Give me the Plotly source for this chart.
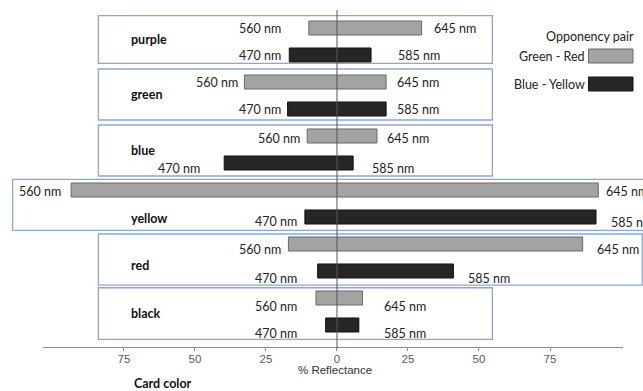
import plotly.graph_objects as go

# Card colours, top to bottom
card_colors = ["purple", "green", "blue", "yellow", "red", "black"]

# % reflectance of each card at the four wavelengths
green_560 = [9.9, 32.6, 10.5, 93.6, 17.1, 7.4]
red_645 = [29.8, 17.3, 14.1, 92.0, 86.5, 9.0]
blue_470 = [16.8, 17.4, 39.7, 11.3, 6.8, 4.0]
yellow_585 = [12.0, 17.3, 5.7, 91.2, 41.0, 7.7]

tick_values = [-75, -50, -25, 0, 25, 50, 75]
tick_labels = ["75", "50", "25", "0", "25", "50", "75"]

# axis geometry
X_RANGE = [-103.5, 100.7]
Y_RANGE = [11.815, -0.667]   # slot units, reversed (first card on top)
W, H = 643, 391
ML, MR, MT, MB = 43, 20, 10, 44
PW, PH = W - ML - MR, H - MT - MB


def xp(v):
    return (v - X_RANGE[0]) / (X_RANGE[1] - X_RANGE[0])


def yp(s):
    return (Y_RANGE[0] - s) / (Y_RANGE[0] - Y_RANGE[1])


def pxx(px):
    return (px - ML) / PW


def pxy(py):
    return (H - MB - py) / PH


GRAY = "#a3a3a3"
GRAY_LINE = "#6b6b6b"
DARK = "#262626"
DARK_LINE = "#141414"
BOX_LINE = "#8fa5d1"
LABEL_FONT = dict(family="Lato", size=12.5, color="#222222")
NAME_FONT = dict(family="Lato", size=12.5, color="#111111", weight="bold")

gr_slots = [2 * i for i in range(len(card_colors))]
by_slots = [2 * i + 1 for i in range(len(card_colors))]

fig = go.Figure()
fig.add_trace(go.Bar(
    orientation="h", y=gr_slots,
    base=[-v for v in green_560],
    x=[a + b for a, b in zip(green_560, red_645)],
    width=0.52, marker=dict(color=GRAY, line=dict(color=GRAY_LINE, width=1)),
    name="Green - Red", showlegend=False,
))
fig.add_trace(go.Bar(
    orientation="h", y=by_slots,
    base=[-v for v in blue_470],
    x=[a + b for a, b in zip(blue_470, yellow_585)],
    width=0.52, marker=dict(color=DARK, line=dict(color=DARK_LINE, width=1)),
    name="Blue - Yellow", showlegend=False,
))

shapes = []
annotations = []

# frame around each card's pair of bars: (x0, x1) in %, (y0, y1) in slots
card_frames = [
    (-84.0, 54.7, -0.456, 1.307),
    (-84.0, 54.7, 1.519, 3.407),
    (-84.0, 54.7, 3.593, 5.481),
    (-114.2, 115.0, 5.604, 7.493),
    (-84.0, 107.5, 7.63, 9.52),
    (-84.0, 54.7, 9.62, 11.53),
]
for x0, x1, y0, y1 in card_frames:
    shapes.append(dict(type="rect", xref="paper", yref="paper",
                       x0=xp(x0), x1=xp(x1), y0=yp(y1), y1=yp(y0),
                       line=dict(color=BOX_LINE, width=1.3), layer="below"))

# zero reference line above the bars
shapes.append(dict(type="line", xref="x", yref="paper", x0=0, x1=0, y0=-0.004, y1=1,
                   line=dict(color="#555555", width=1), layer="above"))

# wavelength labels: (text, x in %, slot, anchor)
wave_labels = [
    ("560 nm", -19.4, 0.0, "right"), ("645 nm", 33.8, 0.0, "left"),
    ("470 nm", -19.4, 1.03, "right"), ("585 nm", 21.1, 1.03, "left"),
    ("560 nm", -34.5, 2.0, "right"), ("645 nm", 20.8, 2.0, "left"),
    ("470 nm", -19.4, 3.03, "right"), ("585 nm", 20.8, 3.03, "left"),
    ("560 nm", -12.8, 4.11, "right"), ("645 nm", 17.3, 4.11, "left"),
    ("470 nm", -47.9, 5.19, "right"), ("585 nm", 12.0, 5.19, "left"),
    ("560 nm", -112.3, 6.06, "left"), ("645 nm", 94.4, 6.07, "left"),
    ("470 nm", -13.7, 7.17, "right"), ("585 nm", 96.1, 7.19, "left"),
    ("560 nm", -19.5, 8.22, "right"), ("645 nm", 91.1, 8.19, "left"),
    ("470 nm", -13.7, 9.26, "right"), ("585 nm", 45.8, 9.26, "left"),
    ("560 nm", -13.7, 10.32, "right"), ("645 nm", 16.2, 10.32, "left"),
    ("470 nm", -13.7, 11.33, "right"), ("585 nm", 16.2, 11.33, "left"),
]
for text, xv, s, anchor in wave_labels:
    annotations.append(dict(text=text, xref="paper", yref="paper", x=xp(xv), y=yp(s),
                            xanchor=anchor, yanchor="middle", showarrow=False,
                            font=LABEL_FONT, borderpad=0))

# card colour names
name_slots = [0.41, 2.46, 4.52, 7.07, 8.78, 10.56]
for name, s in zip(card_colors, name_slots):
    annotations.append(dict(text=name, xref="paper", yref="paper", x=xp(-72.9), y=yp(s),
                            xanchor="left", yanchor="middle", showarrow=False,
                            font=NAME_FONT, borderpad=0))

# legend block
annotations.append(dict(text="Opponency pair", xref="paper", yref="paper",
                        x=pxx(590), y=pxy(36), xanchor="center", yanchor="middle",
                        showarrow=False, font=LABEL_FONT, borderpad=0))
legend_items = [("Green - Red", GRAY, GRAY_LINE, 56), ("Blue - Yellow", DARK, DARK_LINE, 84)]
for text, fill, edge, cy in legend_items:
    annotations.append(dict(text=text, xref="paper", yref="paper",
                            x=pxx(586), y=pxy(cy), xanchor="right", yanchor="middle",
                            showarrow=False, font=LABEL_FONT, borderpad=0))
    shapes.append(dict(type="rect", xref="paper", yref="paper",
                       x0=pxx(588.5), x1=pxx(633), y0=pxy(cy + 7), y1=pxy(cy - 7),
                       fillcolor=fill, line=dict(color=edge, width=1)))

# axis titles
annotations.append(dict(text="% Reflectance", xref="paper", yref="paper",
                        x=pxx(334.5), y=pxy(369.5), xanchor="center", yanchor="middle",
                        showarrow=False, borderpad=0,
                        font=dict(family="Liberation Sans", size=11.5, color="#333333")))
annotations.append(dict(text="Card color", xref="paper", yref="paper",
                        x=pxx(162.5), y=pxy(384), xanchor="center", yanchor="middle",
                        showarrow=False, borderpad=0, font=NAME_FONT))

fig.update_layout(
    width=W, height=H,
    margin=dict(l=ML, r=MR, t=MT, b=MB),
    paper_bgcolor="white", plot_bgcolor="white",
    barmode="overlay", showlegend=False,
    shapes=shapes, annotations=annotations,
    xaxis=dict(range=X_RANGE, tickvals=tick_values, ticktext=tick_labels,
               showgrid=False, zeroline=False, showline=True,
               linecolor="#8c8c8c", linewidth=1, ticks="outside", ticklen=3,
               tickcolor="#8c8c8c", ticklabelstandoff=-2,
               tickfont=dict(family="Liberation Sans", size=11.5, color="#595959")),
    yaxis=dict(range=Y_RANGE, visible=False, showgrid=False, zeroline=False),
)

fig.write_html("out.html")
